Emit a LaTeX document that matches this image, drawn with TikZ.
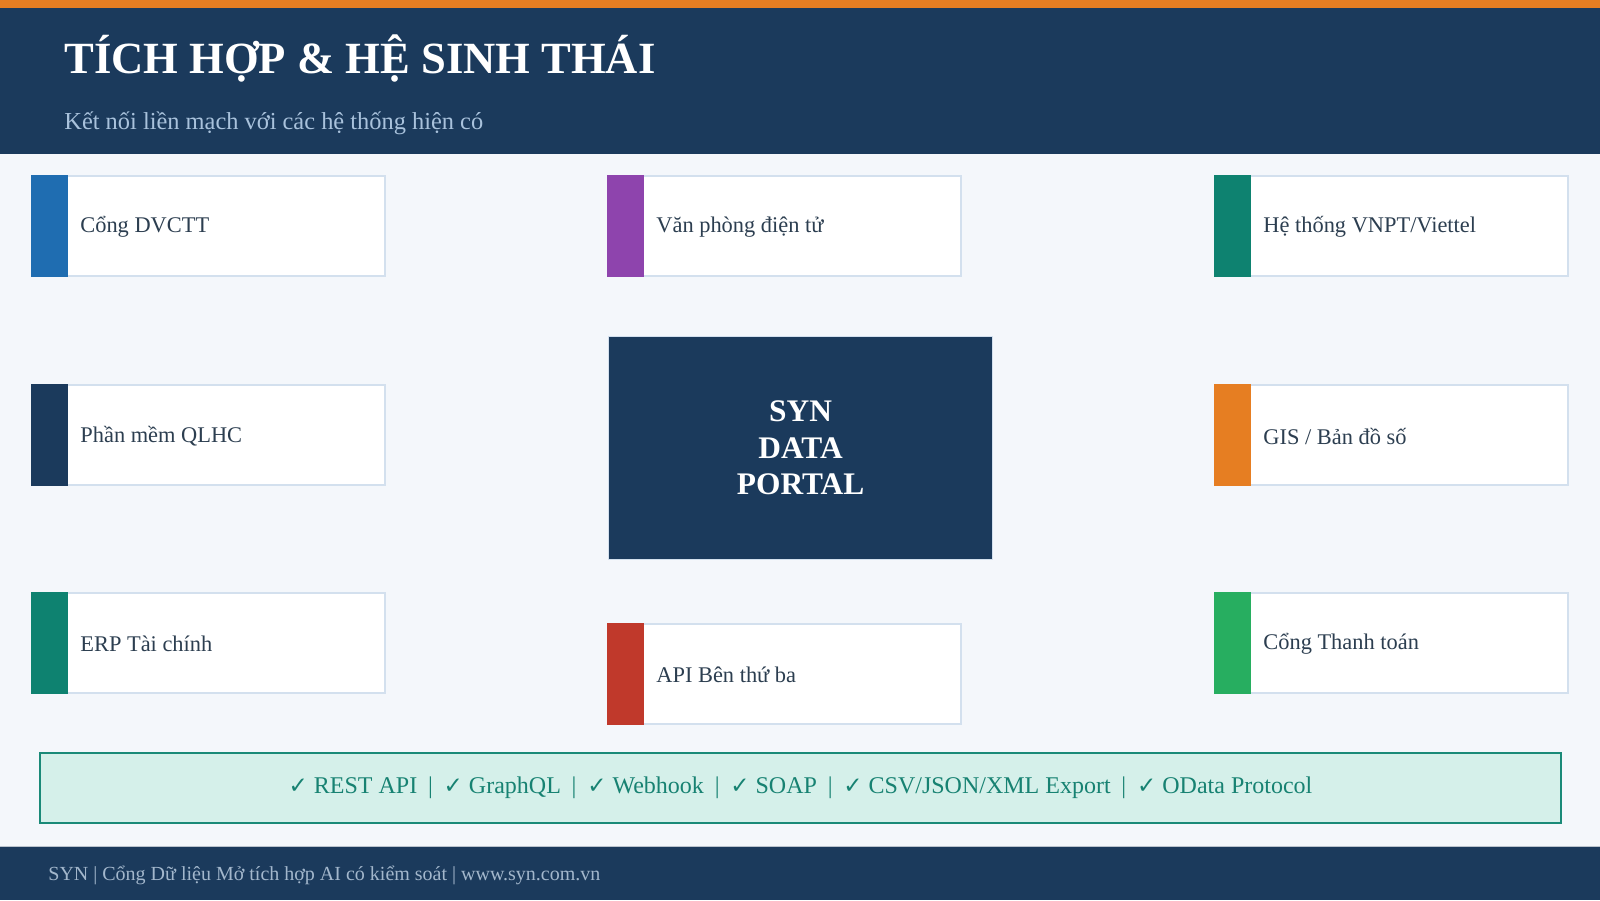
\documentclass[tikz,border=0pt]{standalone}
\usepackage{fontspec}
\setmainfont{Liberation Serif}
\newfontfamily\chkfont{DejaVu Sans}
\definecolor{navy}{HTML}{1B3A5C}
\definecolor{accent}{HTML}{E67E22}
\definecolor{bgpage}{HTML}{F4F7FB}
\definecolor{cardline}{HTML}{D3E0EE}
\definecolor{cardtxt}{HTML}{2C3E50}
\definecolor{cblue}{HTML}{1F6DB1}
\definecolor{cpurple}{HTML}{8E44AD}
\definecolor{cteal}{HTML}{0E8270}
\definecolor{cred}{HTML}{C0392B}
\definecolor{cgreen}{HTML}{27AE60}
\definecolor{subtxt}{HTML}{A9C2DC}
\definecolor{foottxt}{HTML}{A3B7CC}
\definecolor{protofill}{HTML}{D5F0EA}
\definecolor{protoline}{HTML}{1A8A78}
\definecolor{prototxt}{HTML}{178272}
\tikzset{
  cardbox/.style={draw=cardline, line width=1pt, fill=white, minimum width=176.5pt, minimum height=50pt, inner sep=0pt, anchor=north west},
  cardtext/.style={anchor=west, inner sep=0pt, text=cardtxt, font=\fontsize{11.2}{13}\selectfont},
}
\newcommand{\mycard}[5]{%
  \node[cardbox] (#1) at (#2,#3) {};
  \fill[#4] (#1.north west) rectangle ([xshift=18.5pt]#1.south west);
  \node[cardtext] (#1-t) at ([xshift=24.5pt,yshift=-0.5pt]#1.west) {#5};
}
\newcommand{\chk}{{\chkfont\fontsize{11.5}{13}\selectfont ✓}}
\newcommand{\sepbar}{\hspace{0.45em}|\hspace{0.45em}}
\begin{document}
\begin{tikzpicture}[x=0.5pt,y=-0.5pt]
\useasboundingbox (0,0) rectangle (1600,900);
\fill[bgpage] (0,0) rectangle (1600,900);
% header
\fill[navy] (0,0) rectangle (1600,154);
\fill[accent] (0,0) rectangle (1600,8);
\node[anchor=base west, inner sep=0pt, text=white, font=\fontsize{22.3}{26}\selectfont\bfseries] (title) at (64,73) {TÍCH HỢP \& HỆ SINH THÁI};
\node[anchor=base west, inner sep=0pt, text=subtxt, font=\fontsize{12.2}{14}\selectfont] (subtitle) at (64,129) {Kết nối liền mạch với các hệ thống hiện có};
% cards
\mycard{c1}{31}{175}{cblue}{Cổng DVCTT}
\mycard{c2}{607}{175}{cpurple}{Văn phòng điện tử}
\mycard{c3}{1214}{175}{cteal}{Hệ thống VNPT/Viettel}
\mycard{c4}{31}{384}{navy}{Phần mềm QLHC}
\mycard{c5}{1214}{384}{accent}{GIS / Bản đồ số}
\mycard{c6}{31}{592}{cteal}{ERP Tài chính}
\mycard{c7}{607}{623}{cred}{API Bên thứ ba}
\mycard{c8}{1214}{592}{cgreen}{Cổng Thanh toán}
% center
\node[draw=cardline, line width=0.6pt, fill=navy, minimum width=192pt, minimum height=111.5pt, anchor=north west, inner sep=0pt] (portal) at (608,336) {};
\node[align=center, text=white, font=\fontsize{15.7}{18.3}\selectfont\bfseries, inner sep=0pt] (portal-t) at (portal.center) {SYN\\DATA\\PORTAL};
% protocols
\node[draw=protoline, line width=1pt, fill=protofill, minimum width=760.5pt, minimum height=35pt, anchor=north west, inner sep=0pt] (proto) at (39,752) {};
\node[text=prototxt, inner sep=0pt, font=\fontsize{12}{14}\selectfont] (proto-t) at (proto.center) {\chk{} REST API\sepbar\chk{} GraphQL\sepbar\chk{} Webhook\sepbar\chk{} SOAP\sepbar\chk{} CSV/JSON/XML Export\sepbar\chk{} OData Protocol};
% footer
\fill[navy] (0,846) rectangle (1600,900);
\draw[cardline!70!gray, line width=0.5pt] (0,846) -- (1600,846);
\node[anchor=base west, inner sep=0pt, text=foottxt, font=\fontsize{10}{12}\selectfont] (footer) at (48,880) {SYN | Cổng Dữ liệu Mở tích hợp AI có kiểm soát | www.syn.com.vn};
\end{tikzpicture}
\end{document}
